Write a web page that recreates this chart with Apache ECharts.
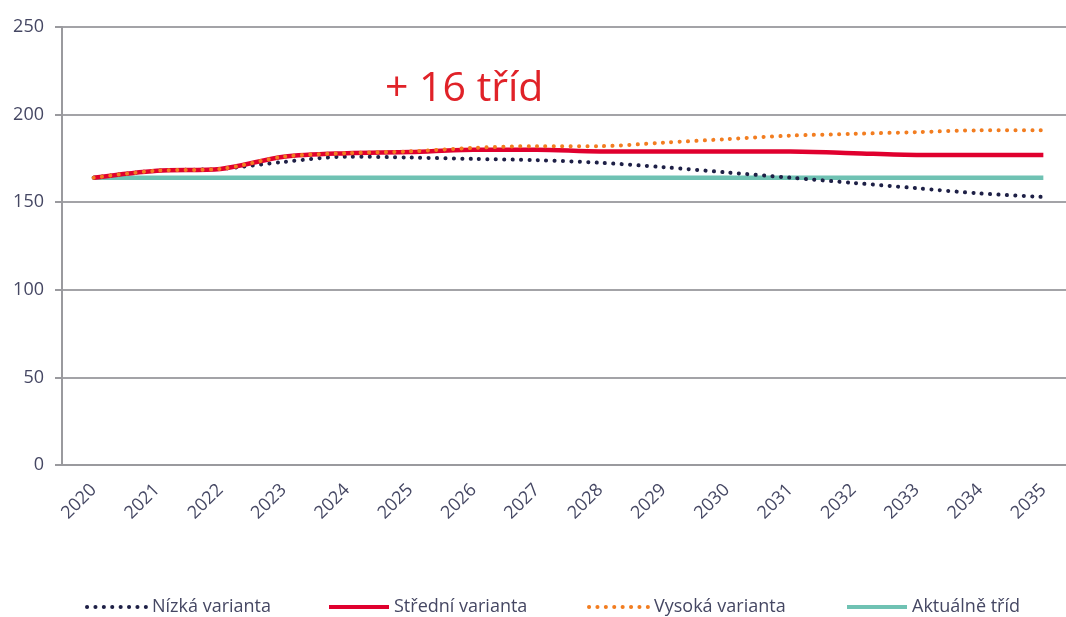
<!DOCTYPE html>
<html>
<head>
<meta charset="utf-8">
<script src="https://cdn.jsdelivr.net/npm/echarts@6/dist/echarts.min.js"></script>
<style>html,body{margin:0;padding:0;background:#fff;overflow:hidden;width:1066px;height:617px}#c{width:1075px;height:617px}</style>
</head>
<body>
<div id="c"></div>
<script>
const years = ['2020','2021','2022','2023','2024','2025','2026','2027','2028','2029','2030','2031','2032','2033','2034','2035'];
const nizka   = [164,168,169,173,176,175.5,174.7,174,172.5,170,167,164,161,158,155,153];
const stredni = [164,168,169,176,178,178.6,180,180,179,179,179,179,178,177,177,177];
const vysoka  = [164,168,169,176,178,179,181,182,182,184,186,188,189,190,191,191];
const aktualne = [164,164,164,164,164,164,164,164,164,164,164,164,164,164,164,164];
const yTicks = [0,50,100,150,200,250];
const seriesNames = ['Nízká varianta','Střední varianta','Vysoká varianta','Aktuálně tříd'];
const annotation = '+ 16 tříd';

const txt = '#454763';
const font = 'Open Sans';
const legendLefts = [85,327,587,845];
const chart = echarts.init(document.getElementById('c'), null, {renderer:'canvas'});
chart.setOption({
  animation:false,
  textStyle:{fontFamily:font},
  grid:{left:62,right:0,top:27,bottom:152,containLabel:false},
  title:{text:annotation,left:380,top:64,textStyle:{color:'#e02228',fontSize:41,fontWeight:'normal',fontFamily:font}},
  legend: seriesNames.map((n,i)=>({
    left:legendLefts[i],top:598,itemWidth:60,itemHeight:14,padding:0,
    itemStyle:{opacity:0},
    lineStyle:{width:4},
    textStyle:{color:txt,fontSize:18,fontFamily:font},
    data:[n]
  })),
  xAxis:{
    type:'category',data:years,boundaryGap:true,
    axisLine:{lineStyle:{color:'#9a9a9e',width:2}},
    axisTick:{length:7,lineStyle:{color:'#9a9a9e',width:2}},
    axisLabel:{rotate:45,color:txt,fontSize:18,margin:22,interval:0}
  },
  yAxis:{
    type:'value',min:yTicks[0],max:yTicks[yTicks.length-1],interval:50,
    axisLine:{show:true,lineStyle:{color:'#9a9a9e',width:2}},
    axisTick:{show:true,length:7,lineStyle:{color:'#9a9a9e',width:2}},
    splitLine:{lineStyle:{color:'#a3a3a7',width:2}},
    axisLabel:{color:txt,fontSize:18,margin:18}
  },
  series:[
    {name:seriesNames[3],type:'line',data:aktualne,symbol:'none',z:1,
     lineStyle:{color:'#6fc2b3',width:4.5},itemStyle:{color:'#6fc2b3'}},
    {name:seriesNames[0],type:'line',data:nizka,symbol:'none',smooth:0.3,z:2,
     lineStyle:{color:'#1e2046',width:4,type:[0.1,8.3],cap:'round'},itemStyle:{color:'#1e2046'}},
    {name:seriesNames[1],type:'line',data:stredni,symbol:'none',smooth:0.3,z:3,
     lineStyle:{color:'#e0002e',width:4.5},itemStyle:{color:'#e0002e'}},
    {name:seriesNames[2],type:'line',data:vysoka,symbol:'none',smooth:0.3,z:4,
     lineStyle:{color:'#f27d20',width:4,type:[0.1,8.3],cap:'round'},itemStyle:{color:'#f27d20'}}
  ]
});
</script>
</body>
</html>
